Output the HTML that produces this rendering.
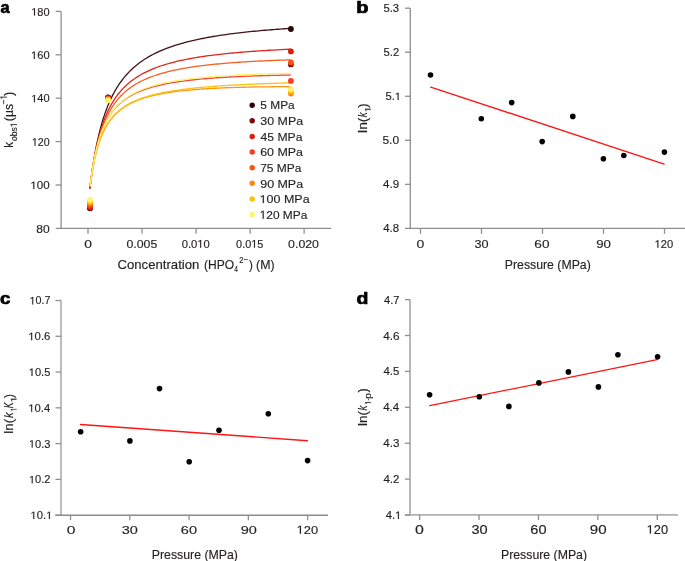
<!DOCTYPE html>
<html><head><meta charset="utf-8"><style>
html,body{margin:0;padding:0;background:#fff;}
svg{display:block;will-change:transform;}
text{font-family:"Liberation Sans", sans-serif;fill:#231f20;font-kerning:none;stroke:#231f20;stroke-width:0.15px;}
</style></head><body>
<svg width="685" height="561" viewBox="0 0 685 561">
<text transform="matrix(0.9712,0,0,1,0.57,12.75)" font-size="16.8" font-weight="bold" style="fill:#000;stroke:#000;stroke-width:0.7px;stroke-linejoin:round">a</text>
<line x1="61.10" y1="11.40" x2="61.10" y2="229.05" stroke="#8f8f8f" stroke-width="1.3"/>
<line x1="60.45" y1="228.40" x2="331.20" y2="228.40" stroke="#8f8f8f" stroke-width="1.3"/>
<line x1="55.60" y1="11.40" x2="61.10" y2="11.40" stroke="#8f8f8f" stroke-width="1.3"/>
<text transform="matrix(1.0302,0,0,1,31.24,15.50)" font-size="10.7" font-weight="normal" > 80</text>
<path transform="matrix(1.0302,0,0,1,31.24,15.50) translate(0.000,0) scale(0.00522,-0.00522)" d="M515,0 L515,1237 L197,1010 L197,1180 L530,1409 L696,1409 L696,0 Z" style="fill:#231f20;stroke:#231f20;stroke-width:0.15px;vector-effect:non-scaling-stroke"/>
<line x1="55.60" y1="54.80" x2="61.10" y2="54.80" stroke="#8f8f8f" stroke-width="1.3"/>
<text transform="matrix(1.0423,0,0,1,31.03,58.90)" font-size="10.7" font-weight="normal" > 60</text>
<path transform="matrix(1.0423,0,0,1,31.03,58.90) translate(0.000,0) scale(0.00522,-0.00522)" d="M515,0 L515,1237 L197,1010 L197,1180 L530,1409 L696,1409 L696,0 Z" style="fill:#231f20;stroke:#231f20;stroke-width:0.15px;vector-effect:non-scaling-stroke"/>
<line x1="55.60" y1="98.20" x2="61.10" y2="98.20" stroke="#8f8f8f" stroke-width="1.3"/>
<text transform="matrix(1.0363,0,0,1,31.13,102.30)" font-size="10.7" font-weight="normal" > 40</text>
<path transform="matrix(1.0363,0,0,1,31.13,102.30) translate(0.000,0) scale(0.00522,-0.00522)" d="M515,0 L515,1237 L197,1010 L197,1180 L530,1409 L696,1409 L696,0 Z" style="fill:#231f20;stroke:#231f20;stroke-width:0.15px;vector-effect:non-scaling-stroke"/>
<line x1="55.60" y1="141.60" x2="61.10" y2="141.60" stroke="#8f8f8f" stroke-width="1.3"/>
<text transform="matrix(0.9936,0,0,1,31.88,145.70)" font-size="10.7" font-weight="normal" > 20</text>
<path transform="matrix(0.9936,0,0,1,31.88,145.70) translate(0.000,0) scale(0.00522,-0.00522)" d="M515,0 L515,1237 L197,1010 L197,1180 L530,1409 L696,1409 L696,0 Z" style="fill:#231f20;stroke:#231f20;stroke-width:0.15px;vector-effect:non-scaling-stroke"/>
<line x1="55.60" y1="185.00" x2="61.10" y2="185.00" stroke="#8f8f8f" stroke-width="1.3"/>
<text transform="matrix(1.0789,0,0,1,30.39,189.10)" font-size="10.7" font-weight="normal" > 00</text>
<path transform="matrix(1.0789,0,0,1,30.39,189.10) translate(0.000,0) scale(0.00522,-0.00522)" d="M515,0 L515,1237 L197,1010 L197,1180 L530,1409 L696,1409 L696,0 Z" style="fill:#231f20;stroke:#231f20;stroke-width:0.15px;vector-effect:non-scaling-stroke"/>
<line x1="55.60" y1="228.40" x2="61.10" y2="228.40" stroke="#8f8f8f" stroke-width="1.3"/>
<text transform="matrix(1.1254,0,0,1,36.28,232.50)" font-size="10.7" font-weight="normal" >80</text>
<line x1="88.00" y1="228.40" x2="88.00" y2="233.80" stroke="#8f8f8f" stroke-width="1.3"/>
<text transform="matrix(1.2327,0,0,1,84.16,247.80)" font-size="11.2" font-weight="normal" >0</text>
<line x1="142.10" y1="228.40" x2="142.10" y2="233.80" stroke="#8f8f8f" stroke-width="1.3"/>
<text transform="matrix(1.1025,0,0,1,126.42,247.80)" font-size="11.2" font-weight="normal" >0.005</text>
<line x1="196.10" y1="228.40" x2="196.10" y2="233.80" stroke="#8f8f8f" stroke-width="1.3"/>
<text transform="matrix(1.0054,0,0,1,181.66,247.80)" font-size="11.2" font-weight="normal" >0.0 0</text>
<path transform="matrix(1.0054,0,0,1,181.66,247.80) translate(15.570,0) scale(0.00547,-0.00547)" d="M515,0 L515,1237 L197,1010 L197,1180 L530,1409 L696,1409 L696,0 Z" style="fill:#231f20;stroke:#231f20;stroke-width:0.15px;vector-effect:non-scaling-stroke"/>
<line x1="250.10" y1="228.40" x2="250.10" y2="233.80" stroke="#8f8f8f" stroke-width="1.3"/>
<text transform="matrix(0.9772,0,0,1,236.07,247.80)" font-size="11.2" font-weight="normal" >0.0 5</text>
<path transform="matrix(0.9772,0,0,1,236.07,247.80) translate(15.570,0) scale(0.00547,-0.00547)" d="M515,0 L515,1237 L197,1010 L197,1180 L530,1409 L696,1409 L696,0 Z" style="fill:#231f20;stroke:#231f20;stroke-width:0.15px;vector-effect:non-scaling-stroke"/>
<line x1="304.10" y1="228.40" x2="304.10" y2="233.80" stroke="#8f8f8f" stroke-width="1.3"/>
<text transform="matrix(1.1012,0,0,1,288.12,247.80)" font-size="11.2" font-weight="normal" >0.020</text>
<text transform="matrix(1.0469,0,0,1,117.43,268.80)" font-size="12.6" font-weight="normal" >Concentration</text>
<text transform="matrix(0.9563,0,0,1,203.95,268.80)" font-size="12.6" font-weight="normal" >(HPO</text>
<text transform="matrix(0.7118,0,0,1,234.35,271.90)" font-size="9.2" font-weight="normal" >4</text>
<text transform="matrix(0.8353,0,0,1,239.31,262.90)" font-size="9.2" font-weight="normal" >2−</text>
<text transform="matrix(0.9279,0,0,1,248.93,268.80)" font-size="12.6" font-weight="normal" >)</text>
<text transform="matrix(0.9812,0,0,1,256.03,268.80)" font-size="12.6" font-weight="normal" >(M)</text>
<text transform="translate(12.80,146.90) rotate(-90) matrix(0.8726,0,0,1,-0.78,0)" font-size="13.2" font-weight="normal" >k</text>
<text transform="translate(16.90,140.60) rotate(-90) matrix(0.9275,0,0,1,-0.36,0)" font-size="9.2" font-weight="normal" >obs </text>
<path transform="translate(16.90,140.60) rotate(-90) matrix(0.9275,0,0,1,-0.36,0) translate(14.833,0) scale(0.00449,-0.00449)" d="M515,0 L515,1237 L197,1010 L197,1180 L530,1409 L696,1409 L696,0 Z" style="fill:#231f20;stroke:#231f20;stroke-width:0.15px;vector-effect:non-scaling-stroke"/>
<text transform="translate(12.90,120.60) rotate(-90) matrix(0.9429,0,0,1,-0.77,0)" font-size="13.2" font-weight="normal" >(</text>
<text transform="translate(12.90,116.10) rotate(-90) matrix(0.9278,0,0,1,-0.84,0)" font-size="13.2" font-weight="normal" >µs</text>
<text transform="translate(6.70,104.20) rotate(-90) matrix(0.9322,0,0,1,-0.42,0)" font-size="9.2" font-weight="normal" >− </text>
<path transform="translate(6.70,104.20) rotate(-90) matrix(0.9322,0,0,1,-0.42,0) translate(5.373,0) scale(0.00449,-0.00449)" d="M515,0 L515,1237 L197,1010 L197,1180 L530,1409 L696,1409 L696,0 Z" style="fill:#231f20;stroke:#231f20;stroke-width:0.15px;vector-effect:non-scaling-stroke"/>
<text transform="translate(12.90,95.80) rotate(-90) matrix(0.9715,0,0,1,-0.08,0)" font-size="13.2" font-weight="normal" >)</text>
<g fill="none" stroke-width="1.3">
<path d="M89.85,188.72 L90.36,184.44 L90.87,180.36 L91.38,176.46 L91.89,172.74 L92.41,169.18 L92.92,165.78 L93.43,162.51 L93.94,159.38 L94.45,156.38 L94.96,153.49 L95.47,150.71 L95.98,148.04 L96.49,145.47 L97.00,143.00 L97.52,140.61 L98.03,138.30 L98.54,136.08 L99.05,133.93 L99.56,131.85 L100.07,129.84 L100.58,127.90 L101.09,126.02 L101.60,124.20 L102.11,122.43 L102.63,120.72 L103.14,119.06 L103.65,117.44 L104.16,115.88 L104.67,114.36 L105.18,112.88 L105.69,111.45 L106.20,110.05 L106.71,108.69 L107.22,107.37 L107.74,106.08 L108.25,104.83 L108.76,103.61 L109.27,102.42 L109.78,101.26 L110.29,100.13 L110.80,99.02 L111.31,97.95 L111.82,96.90 L112.33,95.87 L112.85,94.87 L113.36,93.89 L113.87,92.93 L114.38,92.00 L114.89,91.08 L115.40,90.19 L115.91,89.32 L116.42,88.46 L116.93,87.62 L117.44,86.80 L117.96,86.00 L118.47,85.22 L118.98,84.45 L119.49,83.70 L120.00,82.96 L120.50,82.25 L122.66,79.35 L124.81,76.68 L126.97,74.20 L129.12,71.91 L131.28,69.77 L133.43,67.78 L135.59,65.92 L137.75,64.18 L139.90,62.55 L142.06,61.01 L144.21,59.57 L146.37,58.20 L148.52,56.91 L150.68,55.69 L152.84,54.54 L154.99,53.44 L157.15,52.40 L159.30,51.41 L161.46,50.46 L163.61,49.56 L165.77,48.71 L167.93,47.89 L170.08,47.10 L172.24,46.35 L174.39,45.64 L176.55,44.95 L178.70,44.29 L180.86,43.65 L183.02,43.04 L185.17,42.46 L187.33,41.90 L189.48,41.35 L191.64,40.83 L193.79,40.33 L195.95,39.84 L198.11,39.38 L200.26,38.92 L202.42,38.49 L204.57,38.07 L206.73,37.66 L208.88,37.26 L211.04,36.88 L213.19,36.51 L215.35,36.16 L217.51,35.81 L219.66,35.47 L221.82,35.15 L223.97,34.83 L226.13,34.53 L228.28,34.23 L230.44,33.94 L232.60,33.66 L234.75,33.39 L236.91,33.12 L239.06,32.86 L241.22,32.61 L243.37,32.37 L245.53,32.13 L247.69,31.90 L249.84,31.68 L252.00,31.46 L254.15,31.25 L256.31,31.04 L258.46,30.84 L260.62,30.64 L262.78,30.45 L264.93,30.26 L267.09,30.08 L269.24,29.90 L271.40,29.73 L273.55,29.56 L275.71,29.39 L277.87,29.23 L280.02,29.07 L282.18,28.92 L284.33,28.77 L286.49,28.62 L288.64,28.48 L290.80,28.34" stroke="#441216"/>
<path d="M89.85,188.81 L90.36,184.50 L90.87,180.43 L91.38,176.57 L91.89,172.91 L92.41,169.43 L92.92,166.13 L93.43,162.98 L93.94,159.98 L94.45,157.11 L94.96,154.38 L95.47,151.76 L95.98,149.26 L96.49,146.86 L97.00,144.55 L97.52,142.35 L98.03,140.22 L98.54,138.18 L99.05,136.22 L99.56,134.33 L100.07,132.51 L100.58,130.76 L101.09,129.07 L101.60,127.43 L102.11,125.85 L102.63,124.33 L103.14,122.85 L103.65,121.43 L104.16,120.04 L104.67,118.71 L105.18,117.41 L105.69,116.15 L106.20,114.93 L106.71,113.75 L107.22,112.60 L107.74,111.49 L108.25,110.40 L108.76,109.35 L109.27,108.32 L109.78,107.33 L110.29,106.36 L110.80,105.41 L111.31,104.49 L111.82,103.60 L112.33,102.73 L112.85,101.88 L113.36,101.05 L113.87,100.24 L114.38,99.45 L114.89,98.68 L115.40,97.93 L115.91,97.19 L116.42,96.47 L116.93,95.77 L117.44,95.09 L117.96,94.42 L118.47,93.76 L118.98,93.12 L119.49,92.50 L120.00,91.88 L120.50,91.30 L122.66,88.90 L124.81,86.70 L126.97,84.68 L129.12,82.81 L131.28,81.08 L133.43,79.47 L135.59,77.97 L137.75,76.58 L139.90,75.27 L142.06,74.05 L144.21,72.90 L146.37,71.82 L148.52,70.80 L150.68,69.84 L152.84,68.93 L154.99,68.07 L157.15,67.25 L159.30,66.48 L161.46,65.75 L163.61,65.05 L165.77,64.38 L167.93,63.75 L170.08,63.14 L172.24,62.57 L174.39,62.01 L176.55,61.48 L178.70,60.98 L180.86,60.49 L183.02,60.03 L185.17,59.58 L187.33,59.16 L189.48,58.74 L191.64,58.35 L193.79,57.97 L195.95,57.60 L198.11,57.25 L200.26,56.91 L202.42,56.58 L204.57,56.26 L206.73,55.96 L208.88,55.66 L211.04,55.38 L213.19,55.10 L215.35,54.84 L217.51,54.58 L219.66,54.33 L221.82,54.09 L223.97,53.86 L226.13,53.63 L228.28,53.41 L230.44,53.20 L232.60,52.99 L234.75,52.79 L236.91,52.60 L239.06,52.41 L241.22,52.23 L243.37,52.05 L245.53,51.88 L247.69,51.71 L249.84,51.55 L252.00,51.39 L254.15,51.24 L256.31,51.09 L258.46,50.94 L260.62,50.80 L262.78,50.66 L264.93,50.53 L267.09,50.40 L269.24,50.27 L271.40,50.15 L273.55,50.03 L275.71,49.91 L277.87,49.80 L280.02,49.69 L282.18,49.58 L284.33,49.47 L286.49,49.37 L288.64,49.27 L290.80,49.17" stroke="#e3241b"/>
<path d="M90.15,186.22 L90.66,182.02 L91.16,178.09 L91.67,174.42 L92.17,170.97 L92.68,167.73 L93.19,164.68 L93.69,161.80 L94.20,159.09 L94.70,156.51 L95.21,154.08 L95.72,151.76 L96.22,149.57 L96.73,147.48 L97.23,145.49 L97.74,143.59 L98.24,141.77 L98.75,140.04 L99.26,138.38 L99.76,136.80 L100.27,135.28 L100.77,133.82 L101.28,132.42 L101.79,131.07 L102.29,129.78 L102.80,128.54 L103.30,127.34 L103.81,126.18 L104.32,125.07 L104.82,124.00 L105.33,122.96 L105.83,121.96 L106.34,120.99 L106.85,120.06 L107.35,119.15 L107.86,118.27 L108.36,117.42 L108.87,116.60 L109.38,115.80 L109.88,115.03 L110.39,114.28 L110.89,113.55 L111.40,112.84 L111.91,112.16 L112.41,111.49 L112.92,110.84 L113.42,110.21 L113.93,109.59 L114.43,108.99 L114.94,108.41 L115.45,107.84 L115.95,107.29 L116.46,106.75 L116.96,106.22 L117.47,105.71 L117.98,105.21 L118.48,104.72 L118.99,104.25 L119.49,103.78 L120.00,103.33 L120.50,102.89 L122.66,101.11 L124.81,99.49 L126.97,98.01 L129.12,96.66 L131.28,95.41 L133.43,94.26 L135.59,93.20 L137.75,92.21 L139.90,91.29 L142.06,90.44 L144.21,89.64 L146.37,88.89 L148.52,88.19 L150.68,87.54 L152.84,86.92 L154.99,86.34 L157.15,85.79 L159.30,85.27 L161.46,84.78 L163.61,84.32 L165.77,83.88 L167.93,83.47 L170.08,83.07 L172.24,82.70 L174.39,82.34 L176.55,82.00 L178.70,81.68 L180.86,81.37 L183.02,81.07 L185.17,80.79 L187.33,80.53 L189.48,80.27 L191.64,80.02 L193.79,79.79 L195.95,79.57 L198.11,79.35 L200.26,79.15 L202.42,78.95 L204.57,78.76 L206.73,78.58 L208.88,78.40 L211.04,78.24 L213.19,78.07 L215.35,77.92 L217.51,77.77 L219.66,77.63 L221.82,77.49 L223.97,77.36 L226.13,77.24 L228.28,77.11 L230.44,77.00 L232.60,76.88 L234.75,76.78 L236.91,76.67 L239.06,76.57 L241.22,76.48 L243.37,76.38 L245.53,76.29 L247.69,76.21 L249.84,76.13 L252.00,76.05 L254.15,75.97 L256.31,75.90 L258.46,75.82 L260.62,75.76 L262.78,75.69 L264.93,75.63 L267.09,75.57 L269.24,75.51 L271.40,75.45 L273.55,75.40 L275.71,75.35 L277.87,75.30 L280.02,75.25 L282.18,75.21 L284.33,75.16 L286.49,75.12 L288.64,75.08 L290.80,75.04" stroke="#f2473a"/>
<path d="M90.15,186.29 L90.66,182.23 L91.16,178.40 L91.67,174.77 L92.17,171.34 L92.68,168.08 L93.19,164.99 L93.69,162.06 L94.20,159.26 L94.70,156.59 L95.21,154.05 L95.72,151.62 L96.22,149.29 L96.73,147.07 L97.23,144.94 L97.74,142.90 L98.24,140.94 L98.75,139.05 L99.26,137.24 L99.76,135.50 L100.27,133.83 L100.77,132.21 L101.28,130.66 L101.79,129.16 L102.29,127.71 L102.80,126.31 L103.30,124.96 L103.81,123.65 L104.32,122.39 L104.82,121.16 L105.33,119.98 L105.83,118.83 L106.34,117.72 L106.85,116.64 L107.35,115.59 L107.86,114.58 L108.36,113.59 L108.87,112.63 L109.38,111.70 L109.88,110.79 L110.39,109.91 L110.89,109.06 L111.40,108.22 L111.91,107.41 L112.41,106.62 L112.92,105.85 L113.42,105.10 L113.93,104.36 L114.43,103.65 L114.94,102.95 L115.45,102.27 L115.95,101.61 L116.46,100.96 L116.96,100.33 L117.47,99.71 L117.98,99.11 L118.48,98.52 L118.99,97.94 L119.49,97.37 L120.00,96.82 L120.50,96.29 L122.66,94.11 L124.81,92.12 L126.97,90.30 L129.12,88.61 L131.28,87.06 L133.43,85.62 L135.59,84.28 L137.75,83.03 L139.90,81.87 L142.06,80.78 L144.21,79.76 L146.37,78.80 L148.52,77.90 L150.68,77.05 L152.84,76.25 L154.99,75.50 L157.15,74.79 L159.30,74.11 L161.46,73.47 L163.61,72.86 L165.77,72.28 L167.93,71.73 L170.08,71.21 L172.24,70.71 L174.39,70.23 L176.55,69.78 L178.70,69.35 L180.86,68.93 L183.02,68.54 L185.17,68.16 L187.33,67.79 L189.48,67.44 L191.64,67.11 L193.79,66.79 L195.95,66.48 L198.11,66.18 L200.26,65.90 L202.42,65.63 L204.57,65.36 L206.73,65.11 L208.88,64.87 L211.04,64.63 L213.19,64.41 L215.35,64.19 L217.51,63.98 L219.66,63.78 L221.82,63.58 L223.97,63.39 L226.13,63.21 L228.28,63.03 L230.44,62.86 L232.60,62.70 L234.75,62.54 L236.91,62.39 L239.06,62.24 L241.22,62.10 L243.37,61.96 L245.53,61.82 L247.69,61.69 L249.84,61.57 L252.00,61.45 L254.15,61.33 L256.31,61.22 L258.46,61.11 L260.62,61.00 L262.78,60.90 L264.93,60.80 L267.09,60.70 L269.24,60.61 L271.40,60.52 L273.55,60.43 L275.71,60.35 L277.87,60.27 L280.02,60.19 L282.18,60.11 L284.33,60.04 L286.49,59.96 L288.64,59.89 L290.80,59.83" stroke="#f25e1e"/>
<path d="M90.15,186.30 L90.66,182.39 L91.16,178.75 L91.67,175.34 L92.17,172.14 L92.68,169.14 L93.19,166.32 L93.69,163.66 L94.20,161.14 L94.70,158.77 L95.21,156.52 L95.72,154.39 L96.22,152.36 L96.73,150.44 L97.23,148.60 L97.74,146.86 L98.24,145.19 L98.75,143.60 L99.26,142.08 L99.76,140.62 L100.27,139.23 L100.77,137.89 L101.28,136.61 L101.79,135.38 L102.29,134.19 L102.80,133.05 L103.30,131.96 L103.81,130.90 L104.32,129.89 L104.82,128.90 L105.33,127.96 L105.83,127.05 L106.34,126.16 L106.85,125.31 L107.35,124.48 L107.86,123.69 L108.36,122.91 L108.87,122.17 L109.38,121.44 L109.88,120.74 L110.39,120.05 L110.89,119.39 L111.40,118.75 L111.91,118.13 L112.41,117.52 L112.92,116.93 L113.42,116.36 L113.93,115.80 L114.43,115.26 L114.94,114.73 L115.45,114.22 L115.95,113.72 L116.46,113.23 L116.96,112.76 L117.47,112.30 L117.98,111.85 L118.48,111.41 L118.99,110.98 L119.49,110.56 L120.00,110.15 L120.50,109.76 L122.66,108.16 L124.81,106.70 L126.97,105.38 L129.12,104.17 L131.28,103.06 L133.43,102.04 L135.59,101.10 L137.75,100.22 L139.90,99.41 L142.06,98.66 L144.21,97.96 L146.37,97.31 L148.52,96.70 L150.68,96.13 L152.84,95.60 L154.99,95.10 L157.15,94.63 L159.30,94.19 L161.46,93.77 L163.61,93.38 L165.77,93.01 L167.93,92.66 L170.08,92.32 L172.24,92.01 L174.39,91.72 L176.55,91.44 L178.70,91.17 L180.86,90.92 L183.02,90.68 L185.17,90.45 L187.33,90.24 L189.48,90.03 L191.64,89.84 L193.79,89.66 L195.95,89.48 L198.11,89.31 L200.26,89.16 L202.42,89.01 L204.57,88.86 L206.73,88.73 L208.88,88.60 L211.04,88.47 L213.19,88.36 L215.35,88.25 L217.51,88.14 L219.66,88.04 L221.82,87.95 L223.97,87.85 L226.13,87.77 L228.28,87.69 L230.44,87.61 L232.60,87.54 L234.75,87.47 L236.91,87.40 L239.06,87.34 L241.22,87.28 L243.37,87.23 L245.53,87.18 L247.69,87.13 L249.84,87.08 L252.00,87.04 L254.15,87.00 L256.31,86.96 L258.46,86.92 L260.62,86.89 L262.78,86.86 L264.93,86.83 L267.09,86.81 L269.24,86.78 L271.40,86.76 L273.55,86.74 L275.71,86.72 L277.87,86.71 L280.02,86.70 L282.18,86.68 L284.33,86.67 L286.49,86.66 L288.64,86.66 L290.80,86.65" stroke="#ff9612"/>
<path d="M90.15,186.27 L90.66,182.30 L91.16,178.60 L91.67,175.15 L92.17,171.92 L92.68,168.89 L93.19,166.04 L93.69,163.36 L94.20,160.84 L94.70,158.45 L95.21,156.19 L95.72,154.05 L96.22,152.03 L96.73,150.10 L97.23,148.26 L97.74,146.51 L98.24,144.85 L98.75,143.26 L99.26,141.74 L99.76,140.28 L100.27,138.89 L100.77,137.56 L101.28,136.28 L101.79,135.05 L102.29,133.87 L102.80,132.73 L103.30,131.64 L103.81,130.59 L104.32,129.58 L104.82,128.60 L105.33,127.66 L105.83,126.75 L106.34,125.87 L106.85,125.02 L107.35,124.19 L107.86,123.40 L108.36,122.63 L108.87,121.88 L109.38,121.16 L109.88,120.46 L110.39,119.78 L110.89,119.12 L111.40,118.48 L111.91,117.85 L112.41,117.25 L112.92,116.66 L113.42,116.09 L113.93,115.53 L114.43,114.99 L114.94,114.46 L115.45,113.95 L115.95,113.45 L116.46,112.96 L116.96,112.49 L117.47,112.02 L117.98,111.57 L118.48,111.13 L118.99,110.70 L119.49,110.28 L120.00,109.87 L120.50,109.47 L122.66,107.86 L124.81,106.39 L126.97,105.05 L129.12,103.82 L131.28,102.69 L133.43,101.65 L135.59,100.68 L137.75,99.78 L139.90,98.94 L142.06,98.16 L144.21,97.43 L146.37,96.75 L148.52,96.10 L150.68,95.50 L152.84,94.93 L154.99,94.39 L157.15,93.88 L159.30,93.40 L161.46,92.94 L163.61,92.51 L165.77,92.10 L167.93,91.70 L170.08,91.33 L172.24,90.97 L174.39,90.64 L176.55,90.31 L178.70,90.00 L180.86,89.70 L183.02,89.42 L185.17,89.15 L187.33,88.88 L189.48,88.63 L191.64,88.39 L193.79,88.16 L195.95,87.94 L198.11,87.72 L200.26,87.52 L202.42,87.32 L204.57,87.12 L206.73,86.94 L208.88,86.76 L211.04,86.59 L213.19,86.42 L215.35,86.26 L217.51,86.10 L219.66,85.95 L221.82,85.81 L223.97,85.67 L226.13,85.53 L228.28,85.40 L230.44,85.27 L232.60,85.14 L234.75,85.02 L236.91,84.90 L239.06,84.79 L241.22,84.68 L243.37,84.57 L245.53,84.47 L247.69,84.37 L249.84,84.27 L252.00,84.17 L254.15,84.08 L256.31,83.99 L258.46,83.90 L260.62,83.81 L262.78,83.73 L264.93,83.65 L267.09,83.57 L269.24,83.49 L271.40,83.42 L273.55,83.34 L275.71,83.27 L277.87,83.20 L280.02,83.13 L282.18,83.07 L284.33,83.00 L286.49,82.94 L288.64,82.88 L290.80,82.82" stroke="#ffc20e"/>
<path d="M90.15,186.25 L90.66,182.12 L91.16,178.25 L91.67,174.63 L92.17,171.22 L92.68,168.01 L93.19,164.99 L93.69,162.13 L94.20,159.42 L94.70,156.86 L95.21,154.43 L95.72,152.11 L96.22,149.91 L96.73,147.82 L97.23,145.82 L97.74,143.91 L98.24,142.09 L98.75,140.34 L99.26,138.67 L99.76,137.07 L100.27,135.54 L100.77,134.06 L101.28,132.65 L101.79,131.28 L102.29,129.97 L102.80,128.71 L103.30,127.50 L103.81,126.32 L104.32,125.19 L104.82,124.10 L105.33,123.04 L105.83,122.02 L106.34,121.04 L106.85,120.08 L107.35,119.16 L107.86,118.27 L108.36,117.40 L108.87,116.56 L109.38,115.74 L109.88,114.95 L110.39,114.18 L110.89,113.44 L111.40,112.71 L111.91,112.01 L112.41,111.32 L112.92,110.66 L113.42,110.01 L113.93,109.38 L114.43,108.76 L114.94,108.16 L115.45,107.58 L115.95,107.01 L116.46,106.46 L116.96,105.92 L117.47,105.39 L117.98,104.87 L118.48,104.37 L118.99,103.88 L119.49,103.40 L120.00,102.93 L120.50,102.48 L122.66,100.65 L124.81,98.97 L126.97,97.44 L129.12,96.04 L131.28,94.75 L133.43,93.55 L135.59,92.45 L137.75,91.42 L139.90,90.47 L142.06,89.58 L144.21,88.75 L146.37,87.97 L148.52,87.24 L150.68,86.55 L152.84,85.91 L154.99,85.30 L157.15,84.73 L159.30,84.18 L161.46,83.67 L163.61,83.19 L165.77,82.73 L167.93,82.29 L170.08,81.87 L172.24,81.48 L174.39,81.10 L176.55,80.75 L178.70,80.41 L180.86,80.08 L183.02,79.77 L185.17,79.47 L187.33,79.19 L189.48,78.92 L191.64,78.66 L193.79,78.41 L195.95,78.17 L198.11,77.95 L200.26,77.73 L202.42,77.52 L204.57,77.32 L206.73,77.12 L208.88,76.94 L211.04,76.76 L213.19,76.59 L215.35,76.42 L217.51,76.27 L219.66,76.11 L221.82,75.97 L223.97,75.83 L226.13,75.69 L228.28,75.56 L230.44,75.43 L232.60,75.31 L234.75,75.19 L236.91,75.08 L239.06,74.97 L241.22,74.87 L243.37,74.77 L245.53,74.67 L247.69,74.58 L249.84,74.49 L252.00,74.40 L254.15,74.32 L256.31,74.24 L258.46,74.16 L260.62,74.08 L262.78,74.01 L264.93,73.94 L267.09,73.88 L269.24,73.81 L271.40,73.75 L273.55,73.69 L275.71,73.63 L277.87,73.58 L280.02,73.52 L282.18,73.47 L284.33,73.42 L286.49,73.38 L288.64,73.33 L290.80,73.29" stroke="#fff36b"/>
</g>
<circle cx="90.00" cy="208.30" r="2.9" fill="#2b0508"/>
<circle cx="90.00" cy="208.00" r="2.9" fill="#7c0a0c"/>
<circle cx="90.00" cy="207.30" r="2.9" fill="#e01b10"/>
<circle cx="90.00" cy="205.60" r="2.9" fill="#f83c22"/>
<circle cx="90.00" cy="204.40" r="2.9" fill="#fb5212"/>
<circle cx="90.00" cy="203.00" r="2.9" fill="#fd8a0c"/>
<circle cx="90.00" cy="201.80" r="2.9" fill="#ffc107"/>
<circle cx="90.00" cy="199.80" r="2.9" fill="#fff46a"/>
<circle cx="108.10" cy="97.30" r="2.9" fill="#2b0508"/>
<circle cx="108.10" cy="97.70" r="2.9" fill="#7c0a0c"/>
<circle cx="108.10" cy="98.20" r="2.9" fill="#e01b10"/>
<circle cx="108.10" cy="98.60" r="2.9" fill="#f83c22"/>
<circle cx="108.10" cy="99.00" r="2.9" fill="#fb5212"/>
<circle cx="108.10" cy="99.40" r="2.9" fill="#fd8a0c"/>
<circle cx="108.10" cy="99.80" r="2.9" fill="#ffc107"/>
<circle cx="108.10" cy="100.30" r="2.9" fill="#fff46a"/>
<circle cx="290.90" cy="29.00" r="2.9" fill="#2b0508"/>
<circle cx="290.90" cy="64.40" r="2.9" fill="#7c0a0c"/>
<circle cx="290.90" cy="51.40" r="2.9" fill="#e01b10"/>
<circle cx="290.90" cy="80.90" r="2.9" fill="#f83c22"/>
<circle cx="290.90" cy="62.50" r="2.9" fill="#fb5212"/>
<circle cx="290.90" cy="93.50" r="2.9" fill="#fd8a0c"/>
<circle cx="290.90" cy="91.30" r="2.9" fill="#ffc107"/>
<circle cx="290.90" cy="89.20" r="2.9" fill="#fff46a"/>
<circle cx="252.20" cy="105.20" r="2.7" fill="#2b0508"/>
<text transform="matrix(1.0343,0,0,1,260.32,109.40)" font-size="11.5" font-weight="normal" >5 MPa</text>
<circle cx="252.20" cy="120.82" r="2.7" fill="#7c0a0c"/>
<text transform="matrix(1.0792,0,0,1,260.33,125.02)" font-size="11.5" font-weight="normal" >30 MPa</text>
<circle cx="252.20" cy="136.44" r="2.7" fill="#e01b10"/>
<text transform="matrix(1.0592,0,0,1,260.52,140.64)" font-size="11.5" font-weight="normal" >45 MPa</text>
<circle cx="252.20" cy="152.06" r="2.7" fill="#f83c22"/>
<text transform="matrix(1.0833,0,0,1,260.17,156.26)" font-size="11.5" font-weight="normal" >60 MPa</text>
<circle cx="252.20" cy="167.68" r="2.7" fill="#fb5212"/>
<text transform="matrix(1.0399,0,0,1,260.19,171.88)" font-size="11.5" font-weight="normal" >75 MPa</text>
<circle cx="252.20" cy="183.30" r="2.7" fill="#fd8a0c"/>
<text transform="matrix(1.0820,0,0,1,260.22,187.50)" font-size="11.5" font-weight="normal" >90 MPa</text>
<circle cx="252.20" cy="198.92" r="2.7" fill="#ffc107"/>
<text transform="matrix(1.0863,0,0,1,259.60,203.12)" font-size="11.5" font-weight="normal" > 00 MPa</text>
<path transform="matrix(1.0863,0,0,1,259.60,203.12) translate(0.000,0) scale(0.00562,-0.00562)" d="M515,0 L515,1237 L197,1010 L197,1180 L530,1409 L696,1409 L696,0 Z" style="fill:#231f20;stroke:#231f20;stroke-width:0.15px;vector-effect:non-scaling-stroke"/>
<circle cx="252.20" cy="214.54" r="2.7" fill="#fff46a"/>
<text transform="matrix(1.0374,0,0,1,259.65,218.74)" font-size="11.5" font-weight="normal" > 20 MPa</text>
<path transform="matrix(1.0374,0,0,1,259.65,218.74) translate(0.000,0) scale(0.00562,-0.00562)" d="M515,0 L515,1237 L197,1010 L197,1180 L530,1409 L696,1409 L696,0 Z" style="fill:#231f20;stroke:#231f20;stroke-width:0.15px;vector-effect:non-scaling-stroke"/>
<text transform="matrix(1.1931,0,0,1,356.23,12.75)" font-size="16.8" font-weight="bold" style="fill:#000;stroke:#000;stroke-width:0.7px;stroke-linejoin:round">b</text>
<line x1="410.30" y1="8.20" x2="410.30" y2="229.10" stroke="#8f8f8f" stroke-width="1.3"/>
<line x1="409.65" y1="228.45" x2="685.00" y2="228.45" stroke="#8f8f8f" stroke-width="1.3"/>
<line x1="405.00" y1="8.20" x2="410.30" y2="8.20" stroke="#8f8f8f" stroke-width="1.3"/>
<text transform="matrix(1.0617,0,0,1,383.45,12.00)" font-size="10.6" font-weight="normal" >5.3</text>
<line x1="405.00" y1="52.24" x2="410.30" y2="52.24" stroke="#8f8f8f" stroke-width="1.3"/>
<text transform="matrix(1.0597,0,0,1,383.55,56.04)" font-size="10.6" font-weight="normal" >5.2</text>
<line x1="405.00" y1="96.28" x2="410.30" y2="96.28" stroke="#8f8f8f" stroke-width="1.3"/>
<text transform="matrix(1.0567,0,0,1,385.45,100.08)" font-size="10.6" font-weight="normal" >5. </text>
<path transform="matrix(1.0567,0,0,1,385.45,100.08) translate(8.840,0) scale(0.00518,-0.00518)" d="M515,0 L515,1237 L197,1010 L197,1180 L530,1409 L696,1409 L696,0 Z" style="fill:#231f20;stroke:#231f20;stroke-width:0.15px;vector-effect:non-scaling-stroke"/>
<line x1="405.00" y1="140.32" x2="410.30" y2="140.32" stroke="#8f8f8f" stroke-width="1.3"/>
<text transform="matrix(1.1297,0,0,1,382.42,144.12)" font-size="10.6" font-weight="normal" >5.0</text>
<line x1="405.00" y1="184.36" x2="410.30" y2="184.36" stroke="#8f8f8f" stroke-width="1.3"/>
<text transform="matrix(1.0936,0,0,1,383.03,188.16)" font-size="10.6" font-weight="normal" >4.9</text>
<line x1="405.00" y1="228.40" x2="410.30" y2="228.40" stroke="#8f8f8f" stroke-width="1.3"/>
<text transform="matrix(1.0761,0,0,1,383.24,232.20)" font-size="10.6" font-weight="normal" >4.8</text>
<line x1="420.50" y1="228.45" x2="420.50" y2="233.80" stroke="#8f8f8f" stroke-width="1.3"/>
<text transform="matrix(1.2978,0,0,1,416.50,247.70)" font-size="10.8" font-weight="normal" >0</text>
<line x1="481.50" y1="228.45" x2="481.50" y2="233.80" stroke="#8f8f8f" stroke-width="1.3"/>
<text transform="matrix(1.1718,0,0,1,474.47,247.70)" font-size="10.8" font-weight="normal" >30</text>
<line x1="542.50" y1="228.45" x2="542.50" y2="233.80" stroke="#8f8f8f" stroke-width="1.3"/>
<text transform="matrix(1.2588,0,0,1,534.36,247.70)" font-size="10.8" font-weight="normal" >60</text>
<line x1="603.50" y1="228.45" x2="603.50" y2="233.80" stroke="#8f8f8f" stroke-width="1.3"/>
<text transform="matrix(1.2269,0,0,1,596.18,247.70)" font-size="10.8" font-weight="normal" >90</text>
<line x1="664.50" y1="228.45" x2="664.50" y2="233.80" stroke="#8f8f8f" stroke-width="1.3"/>
<text transform="matrix(1.0327,0,0,1,654.58,247.70)" font-size="10.8" font-weight="normal" > 20</text>
<path transform="matrix(1.0327,0,0,1,654.58,247.70) translate(0.000,0) scale(0.00527,-0.00527)" d="M515,0 L515,1237 L197,1010 L197,1180 L530,1409 L696,1409 L696,0 Z" style="fill:#231f20;stroke:#231f20;stroke-width:0.15px;vector-effect:non-scaling-stroke"/>
<text transform="matrix(0.9745,0,0,1,504.79,268.80)" font-size="12.6" font-weight="normal" >Pressure (MPa)</text>
<text transform="translate(367.10,132.00) rotate(-90) matrix(1.0509,0,0,1,-0.93,0)" font-size="13.2" font-weight="normal" >ln(</text>
<text transform="translate(367.10,117.00) rotate(-90) matrix(0.7498,0,0,1,-0.16,0)" font-size="13.2" font-weight="normal" font-style="italic" >k</text>
<text transform="translate(370.70,111.20) rotate(-90) matrix(1.2012,0,0,1,-0.95,0)" font-size="8.2" font-weight="normal" > </text>
<path transform="translate(370.70,111.20) rotate(-90) matrix(1.2012,0,0,1,-0.95,0) translate(0.000,0) scale(0.00400,-0.00400)" d="M515,0 L515,1237 L197,1010 L197,1180 L530,1409 L696,1409 L696,0 Z" style="fill:#231f20;stroke:#231f20;stroke-width:0.15px;vector-effect:non-scaling-stroke"/>
<text transform="translate(367.10,107.90) rotate(-90) matrix(1.0572,0,0,1,-0.08,0)" font-size="13.2" font-weight="normal" >)</text>
<line x1="430.72" y1="87.07" x2="664.18" y2="164.13" stroke="#ff1414" stroke-width="1.35" stroke-linecap="round"/>
<circle cx="430.50" cy="75.00" r="2.8" fill="#000"/>
<circle cx="481.30" cy="118.70" r="2.8" fill="#000"/>
<circle cx="511.70" cy="102.60" r="2.8" fill="#000"/>
<circle cx="542.20" cy="141.60" r="2.8" fill="#000"/>
<circle cx="572.80" cy="116.40" r="2.8" fill="#000"/>
<circle cx="603.40" cy="158.70" r="2.8" fill="#000"/>
<circle cx="623.80" cy="155.50" r="2.8" fill="#000"/>
<circle cx="664.40" cy="152.10" r="2.8" fill="#000"/>
<text transform="matrix(1.1104,0,0,1,0.12,304.00)" font-size="16.8" font-weight="bold" style="fill:#000;stroke:#000;stroke-width:0.7px;stroke-linejoin:round">c</text>
<line x1="61.00" y1="300.50" x2="61.00" y2="515.95" stroke="#bcbcbc" stroke-width="2.0"/>
<line x1="55.40" y1="515.30" x2="328.00" y2="515.30" stroke="#8c8c8c" stroke-width="1.4"/>
<line x1="55.50" y1="300.50" x2="61.00" y2="300.50" stroke="#8f8f8f" stroke-width="1.3"/>
<text transform="matrix(1.0022,0,0,1,29.57,304.40)" font-size="10.7" font-weight="normal" > 0.7</text>
<path transform="matrix(1.0022,0,0,1,29.57,304.40) translate(0.000,0) scale(0.00522,-0.00522)" d="M515,0 L515,1237 L197,1010 L197,1180 L530,1409 L696,1409 L696,0 Z" style="fill:#231f20;stroke:#231f20;stroke-width:0.15px;vector-effect:non-scaling-stroke"/>
<line x1="55.50" y1="336.28" x2="61.00" y2="336.28" stroke="#8f8f8f" stroke-width="1.3"/>
<text transform="matrix(1.0608,0,0,1,28.31,340.18)" font-size="10.7" font-weight="normal" > 0.6</text>
<path transform="matrix(1.0608,0,0,1,28.31,340.18) translate(0.000,0) scale(0.00522,-0.00522)" d="M515,0 L515,1237 L197,1010 L197,1180 L530,1409 L696,1409 L696,0 Z" style="fill:#231f20;stroke:#231f20;stroke-width:0.15px;vector-effect:non-scaling-stroke"/>
<line x1="55.50" y1="372.06" x2="61.00" y2="372.06" stroke="#8f8f8f" stroke-width="1.3"/>
<text transform="matrix(1.0389,0,0,1,28.73,375.96)" font-size="10.7" font-weight="normal" > 0.5</text>
<path transform="matrix(1.0389,0,0,1,28.73,375.96) translate(0.000,0) scale(0.00522,-0.00522)" d="M515,0 L515,1237 L197,1010 L197,1180 L530,1409 L696,1409 L696,0 Z" style="fill:#231f20;stroke:#231f20;stroke-width:0.15px;vector-effect:non-scaling-stroke"/>
<line x1="55.50" y1="407.84" x2="61.00" y2="407.84" stroke="#8f8f8f" stroke-width="1.3"/>
<text transform="matrix(1.0522,0,0,1,28.32,411.74)" font-size="10.7" font-weight="normal" > 0.4</text>
<path transform="matrix(1.0522,0,0,1,28.32,411.74) translate(0.000,0) scale(0.00522,-0.00522)" d="M515,0 L515,1237 L197,1010 L197,1180 L530,1409 L696,1409 L696,0 Z" style="fill:#231f20;stroke:#231f20;stroke-width:0.15px;vector-effect:non-scaling-stroke"/>
<line x1="55.50" y1="443.62" x2="61.00" y2="443.62" stroke="#8f8f8f" stroke-width="1.3"/>
<text transform="matrix(1.0297,0,0,1,28.94,447.52)" font-size="10.7" font-weight="normal" > 0.3</text>
<path transform="matrix(1.0297,0,0,1,28.94,447.52) translate(0.000,0) scale(0.00522,-0.00522)" d="M515,0 L515,1237 L197,1010 L197,1180 L530,1409 L696,1409 L696,0 Z" style="fill:#231f20;stroke:#231f20;stroke-width:0.15px;vector-effect:non-scaling-stroke"/>
<line x1="55.50" y1="479.40" x2="61.00" y2="479.40" stroke="#8f8f8f" stroke-width="1.3"/>
<text transform="matrix(1.0333,0,0,1,28.94,483.30)" font-size="10.7" font-weight="normal" > 0.2</text>
<path transform="matrix(1.0333,0,0,1,28.94,483.30) translate(0.000,0) scale(0.00522,-0.00522)" d="M515,0 L515,1237 L197,1010 L197,1180 L530,1409 L696,1409 L696,0 Z" style="fill:#231f20;stroke:#231f20;stroke-width:0.15px;vector-effect:non-scaling-stroke"/>
<line x1="55.50" y1="515.18" x2="61.00" y2="515.18" stroke="#8f8f8f" stroke-width="1.3"/>
<text transform="matrix(1.0525,0,0,1,30.42,519.08)" font-size="10.7" font-weight="normal" > 0. </text>
<path transform="matrix(1.0525,0,0,1,30.42,519.08) translate(0.000,0) scale(0.00522,-0.00522)" d="M515,0 L515,1237 L197,1010 L197,1180 L530,1409 L696,1409 L696,0 Z" style="fill:#231f20;stroke:#231f20;stroke-width:0.15px;vector-effect:non-scaling-stroke"/>
<path transform="matrix(1.0525,0,0,1,30.42,519.08) translate(14.874,0) scale(0.00522,-0.00522)" d="M515,0 L515,1237 L197,1010 L197,1180 L530,1409 L696,1409 L696,0 Z" style="fill:#231f20;stroke:#231f20;stroke-width:0.15px;vector-effect:non-scaling-stroke"/>
<line x1="70.50" y1="515.30" x2="70.50" y2="520.20" stroke="#8f8f8f" stroke-width="1.3"/>
<text transform="matrix(1.3296,0,0,1,66.64,533.80)" font-size="11.8" font-weight="normal" >0</text>
<line x1="129.78" y1="515.30" x2="129.78" y2="520.20" stroke="#8f8f8f" stroke-width="1.3"/>
<text transform="matrix(1.2280,0,0,1,121.75,533.80)" font-size="11.8" font-weight="normal" >30</text>
<line x1="189.06" y1="515.30" x2="189.06" y2="520.20" stroke="#8f8f8f" stroke-width="1.3"/>
<text transform="matrix(1.2350,0,0,1,180.81,533.80)" font-size="11.8" font-weight="normal" >60</text>
<line x1="248.34" y1="515.30" x2="248.34" y2="520.20" stroke="#8f8f8f" stroke-width="1.3"/>
<text transform="matrix(1.2303,0,0,1,240.67,533.80)" font-size="11.8" font-weight="normal" >90</text>
<line x1="307.62" y1="515.30" x2="307.62" y2="520.20" stroke="#8f8f8f" stroke-width="1.3"/>
<text transform="matrix(1.0889,0,0,1,296.61,533.80)" font-size="11.8" font-weight="normal" > 20</text>
<path transform="matrix(1.0889,0,0,1,296.61,533.80) translate(0.000,0) scale(0.00576,-0.00576)" d="M515,0 L515,1237 L197,1010 L197,1180 L530,1409 L696,1409 L696,0 Z" style="fill:#231f20;stroke:#231f20;stroke-width:0.15px;vector-effect:non-scaling-stroke"/>
<text transform="matrix(0.9768,0,0,1,151.79,559.00)" font-size="12.6" font-weight="normal" >Pressure (MPa)</text>
<text transform="translate(12.90,432.80) rotate(-90) matrix(1.0071,0,0,1,-0.90,0)" font-size="13.2" font-weight="normal" >ln(</text>
<text transform="translate(12.90,417.90) rotate(-90) matrix(0.8507,0,0,1,-0.19,0)" font-size="13.2" font-weight="normal" font-style="italic" >k</text>
<text transform="translate(16.50,410.80) rotate(-90) matrix(0.9510,0,0,1,-0.75,0)" font-size="8.2" font-weight="normal" > </text>
<path transform="translate(16.50,410.80) rotate(-90) matrix(0.9510,0,0,1,-0.75,0) translate(0.000,0) scale(0.00400,-0.00400)" d="M515,0 L515,1237 L197,1010 L197,1180 L530,1409 L696,1409 L696,0 Z" style="fill:#231f20;stroke:#231f20;stroke-width:0.15px;vector-effect:non-scaling-stroke"/>
<text transform="translate(12.90,408.10) rotate(-90) matrix(0.6643,0,0,1,-0.27,0)" font-size="13.2" font-weight="normal" font-style="italic" >K</text>
<text transform="translate(16.50,401.40) rotate(-90) matrix(1.3514,0,0,1,-1.07,0)" font-size="8.2" font-weight="normal" > </text>
<path transform="translate(16.50,401.40) rotate(-90) matrix(1.3514,0,0,1,-1.07,0) translate(0.000,0) scale(0.00400,-0.00400)" d="M515,0 L515,1237 L197,1010 L197,1180 L530,1409 L696,1409 L696,0 Z" style="fill:#231f20;stroke:#231f20;stroke-width:0.15px;vector-effect:non-scaling-stroke"/>
<text transform="translate(12.90,397.90) rotate(-90) matrix(0.9143,0,0,1,-0.07,0)" font-size="13.2" font-weight="normal" >)</text>
<line x1="80.55" y1="424.49" x2="307.45" y2="440.71" stroke="#ff1414" stroke-width="1.35" stroke-linecap="round"/>
<circle cx="80.65" cy="431.70" r="2.8" fill="#000"/>
<circle cx="129.90" cy="440.90" r="2.8" fill="#000"/>
<circle cx="159.50" cy="388.60" r="2.8" fill="#000"/>
<circle cx="189.20" cy="461.70" r="2.8" fill="#000"/>
<circle cx="219.00" cy="430.20" r="2.8" fill="#000"/>
<circle cx="268.30" cy="413.70" r="2.8" fill="#000"/>
<circle cx="307.60" cy="460.60" r="2.8" fill="#000"/>
<text transform="matrix(1.1576,0,0,1,356.45,303.60)" font-size="16.8" font-weight="bold" style="fill:#000;stroke:#000;stroke-width:0.7px;stroke-linejoin:round">d</text>
<line x1="410.00" y1="299.60" x2="410.00" y2="515.75" stroke="#b0b0b0" stroke-width="1.8"/>
<line x1="404.80" y1="514.95" x2="678.00" y2="514.95" stroke="#b0b0b0" stroke-width="1.8"/>
<line x1="405.00" y1="299.60" x2="410.00" y2="299.60" stroke="#8f8f8f" stroke-width="1.3"/>
<text transform="matrix(1.0265,0,0,1,384.05,303.60)" font-size="10.8" font-weight="normal" >4.7</text>
<line x1="405.00" y1="335.50" x2="410.00" y2="335.50" stroke="#8f8f8f" stroke-width="1.3"/>
<text transform="matrix(1.0846,0,0,1,383.13,339.50)" font-size="10.8" font-weight="normal" >4.6</text>
<line x1="405.00" y1="371.40" x2="410.00" y2="371.40" stroke="#8f8f8f" stroke-width="1.3"/>
<text transform="matrix(1.0551,0,0,1,383.54,375.40)" font-size="10.8" font-weight="normal" >4.5</text>
<line x1="405.00" y1="407.30" x2="410.00" y2="407.30" stroke="#8f8f8f" stroke-width="1.3"/>
<text transform="matrix(1.0727,0,0,1,383.13,411.30)" font-size="10.8" font-weight="normal" >4.4</text>
<line x1="405.00" y1="443.20" x2="410.00" y2="443.20" stroke="#8f8f8f" stroke-width="1.3"/>
<text transform="matrix(1.0776,0,0,1,383.23,447.20)" font-size="10.8" font-weight="normal" >4.3</text>
<line x1="405.00" y1="479.10" x2="410.00" y2="479.10" stroke="#8f8f8f" stroke-width="1.3"/>
<text transform="matrix(1.0687,0,0,1,383.44,483.10)" font-size="10.8" font-weight="normal" >4.2</text>
<line x1="405.00" y1="515.00" x2="410.00" y2="515.00" stroke="#8f8f8f" stroke-width="1.3"/>
<text transform="matrix(1.0459,0,0,1,385.64,519.00)" font-size="10.8" font-weight="normal" >4. </text>
<path transform="matrix(1.0459,0,0,1,385.64,519.00) translate(9.007,0) scale(0.00527,-0.00527)" d="M515,0 L515,1237 L197,1010 L197,1180 L530,1409 L696,1409 L696,0 Z" style="fill:#231f20;stroke:#231f20;stroke-width:0.15px;vector-effect:non-scaling-stroke"/>
<line x1="419.60" y1="514.95" x2="419.60" y2="520.00" stroke="#8f8f8f" stroke-width="1.3"/>
<text transform="matrix(1.3032,0,0,1,415.08,533.60)" font-size="12.2" font-weight="normal" >0</text>
<line x1="479.03" y1="514.95" x2="479.03" y2="520.00" stroke="#8f8f8f" stroke-width="1.3"/>
<text transform="matrix(1.1957,0,0,1,471.39,533.60)" font-size="12.2" font-weight="normal" >30</text>
<line x1="538.46" y1="514.95" x2="538.46" y2="520.00" stroke="#8f8f8f" stroke-width="1.3"/>
<text transform="matrix(1.1945,0,0,1,530.31,533.60)" font-size="12.2" font-weight="normal" >60</text>
<line x1="597.89" y1="514.95" x2="597.89" y2="520.00" stroke="#8f8f8f" stroke-width="1.3"/>
<text transform="matrix(1.2379,0,0,1,589.74,533.60)" font-size="12.2" font-weight="normal" >90</text>
<line x1="657.32" y1="514.95" x2="657.32" y2="520.00" stroke="#8f8f8f" stroke-width="1.3"/>
<text transform="matrix(1.0532,0,0,1,646.61,533.60)" font-size="12.2" font-weight="normal" > 20</text>
<path transform="matrix(1.0532,0,0,1,646.61,533.60) translate(0.000,0) scale(0.00596,-0.00596)" d="M515,0 L515,1237 L197,1010 L197,1180 L530,1409 L696,1409 L696,0 Z" style="fill:#231f20;stroke:#231f20;stroke-width:0.15px;vector-effect:non-scaling-stroke"/>
<text transform="matrix(0.9768,0,0,1,500.99,558.90)" font-size="12.6" font-weight="normal" >Pressure (MPa)</text>
<text transform="translate(367.10,425.00) rotate(-90) matrix(1.0144,0,0,1,-0.90,0)" font-size="13.2" font-weight="normal" >ln(</text>
<text transform="translate(367.10,410.30) rotate(-90) matrix(0.7498,0,0,1,-0.16,0)" font-size="13.2" font-weight="normal" font-style="italic" >k</text>
<text transform="translate(370.80,404.00) rotate(-90) matrix(0.9510,0,0,1,-0.75,0)" font-size="8.2" font-weight="normal" > </text>
<path transform="translate(370.80,404.00) rotate(-90) matrix(0.9510,0,0,1,-0.75,0) translate(0.000,0) scale(0.00400,-0.00400)" d="M515,0 L515,1237 L197,1010 L197,1180 L530,1409 L696,1409 L696,0 Z" style="fill:#231f20;stroke:#231f20;stroke-width:0.15px;vector-effect:non-scaling-stroke"/>
<text transform="translate(370.80,400.20) rotate(-90) matrix(0.7493,0,0,1,-0.27,0)" font-size="8.2" font-weight="normal" >-</text>
<text transform="translate(370.80,398.00) rotate(-90) matrix(1.2203,0,0,1,-0.64,0)" font-size="8.2" font-weight="normal" >p</text>
<text transform="translate(367.10,392.40) rotate(-90) matrix(0.9715,0,0,1,-0.08,0)" font-size="13.2" font-weight="normal" >)</text>
<line x1="429.74" y1="405.69" x2="657.06" y2="359.61" stroke="#ff1414" stroke-width="1.35" stroke-linecap="round"/>
<circle cx="429.60" cy="394.80" r="2.8" fill="#000"/>
<circle cx="479.30" cy="396.80" r="2.8" fill="#000"/>
<circle cx="508.90" cy="406.40" r="2.8" fill="#000"/>
<circle cx="538.90" cy="382.90" r="2.8" fill="#000"/>
<circle cx="568.40" cy="371.90" r="2.8" fill="#000"/>
<circle cx="598.40" cy="386.90" r="2.8" fill="#000"/>
<circle cx="617.90" cy="354.80" r="2.8" fill="#000"/>
<circle cx="657.60" cy="356.70" r="2.8" fill="#000"/>
</svg>
</body></html>
